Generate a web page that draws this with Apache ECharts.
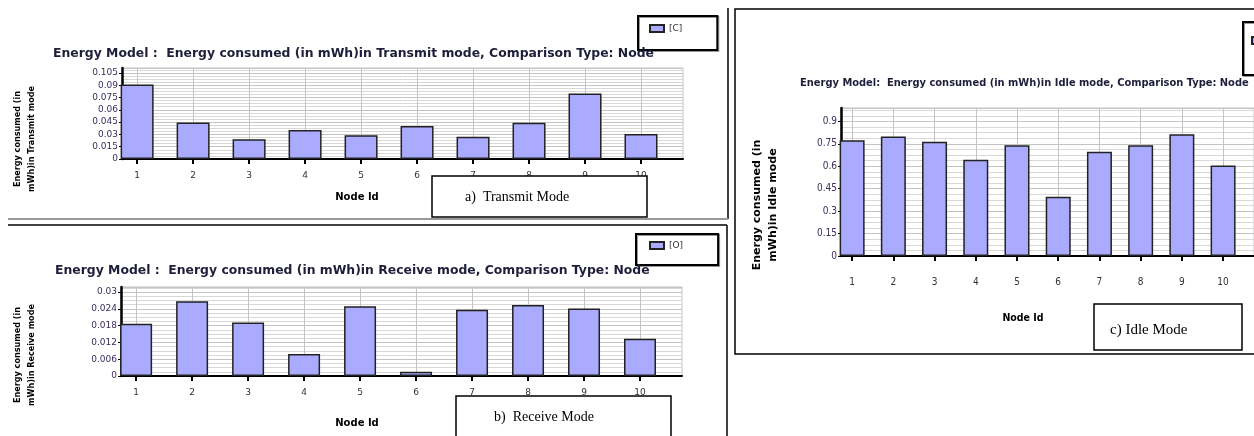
<!doctype html>
<html>
    <head>
        <meta charset="utf-8">
        <title>Energy consumed per node</title>
        <style>
            html, body { margin: 0; padding: 0; background: #fff; }
            #main { width: 1254px; height: 436px; }
        </style>
    </head>
    <body>
        <div id="main"></div>
        <script src="https://cdn.jsdelivr.net/npm/echarts@6/dist/echarts.min.js"></script>
        <script>
            // values (mWh)
            var nodeIds = [1, 2, 3, 4, 5, 6, 7, 8, 9, 10];
            var transmitValues = [0.091, 0.0446, 0.0242, 0.0353, 0.0291, 0.0402, 0.027, 0.0443, 0.080, 0.0304];
            var receiveValues = [0.0187, 0.0267, 0.0191, 0.0079, 0.0249, 0.0015, 0.0237, 0.0254, 0.0241, 0.0133];
            var idleValues = [0.775, 0.799, 0.765, 0.643, 0.741, 0.397, 0.698, 0.741, 0.815, 0.605];
            var seriesNames = ['[C]', '[O]', '[I]'];

            var SANS = 'DejaVu Sans';
            var COND = '"DejaVu Sans Condensed", "Liberation Sans Narrow", sans-serif';
            var BAR = '#aaaaff';

            function pairs(values) {
                return values.map(function (v, i) { return [nodeIds[i], v]; });
            }

            function xAxis(idx, margin, font, size) {
                return {
                    type: 'value', gridIndex: idx,
                    min: 0.73, max: 10.75,
                    axisLine: { lineStyle: { color: '#000', width: 2 } },
                    axisTick: { customValues: nodeIds, length: 5, lineStyle: { color: '#000', width: 2 } },
                    axisLabel: { customValues: nodeIds, margin: margin, fontFamily: font, fontSize: size, color: '#333' },
                    splitLine: { show: true, lineStyle: { color: '#c4c4c4' } }
                };
            }

            function yAxis(idx, max, interval, font, size) {
                return {
                    type: 'value', gridIndex: idx,
                    min: 0, max: max, interval: interval,
                    axisLine: { show: true, lineStyle: { color: '#000', width: 2.5 } },
                    axisTick: { show: true, length: 3, lineStyle: { color: '#000' } },
                    axisLabel: { showMaxLabel: false, margin: 4, fontFamily: font, fontSize: size, color: '#3b2d5c' },
                    splitLine: { lineStyle: { color: '#c4c4c4' } },
                    minorTick: { show: false, splitNumber: 4 },
                    minorSplitLine: { show: true, lineStyle: { color: '#d8d8d8' } }
                };
            }

            function bars(name, idx, values, width) {
                return {
                    type: 'bar', name: name,
                    xAxisIndex: idx, yAxisIndex: idx,
                    barWidth: width,
                    itemStyle: { color: BAR, borderColor: '#222', borderWidth: 1.5 },
                    data: pairs(values)
                };
            }

            function legend(name, left, top, padding) {
                return {
                    data: [name], left: left, top: top, padding: padding,
                    orient: 'vertical', icon: 'rect', itemWidth: 14, itemHeight: 7,
                    borderColor: '#000', borderWidth: 2,
                    shadowColor: 'rgba(0,0,0,0.4)', shadowOffsetX: 1, shadowOffsetY: 1,
                    textStyle: { fontFamily: SANS, fontSize: 9, color: '#333' }
                };
            }

            function label(text, x, y, font, size, rot) {
                return {
                    type: 'text', x: x, y: y, rotation: rot || 0, z: 100,
                    style: {
                        text: text, font: 'bold ' + size + 'px ' + font,
                        fill: '#000', align: 'center', verticalAlign: 'middle', lineHeight: size + 5
                    }
                };
            }

            function line(x1, y1, x2, y2, color, w) {
                return { type: 'line', z: 100, shape: { x1: x1, y1: y1, x2: x2, y2: y2 }, style: { stroke: color, lineWidth: w } };
            }

            function caption(x, y, w, h, text, tx, ty, size) {
                return [
                    { type: 'rect', z: 100, shape: { x: x, y: y, width: w, height: h }, style: { fill: '#fff', stroke: '#000', lineWidth: 1.5 } },
                    { type: 'text', z: 101, x: tx, y: ty, style: { text: text, font: size + 'px "Liberation Serif"', fill: '#000', verticalAlign: 'middle' } }
                ];
            }

            var chart = echarts.init(document.getElementById('main'));

            chart.setOption({
                backgroundColor: '#fff',
                animation: false,
                title: [
                    { text: 'Energy Model :  Energy consumed (in mWh)in Transmit mode, Comparison Type: Node', left: 53, top: 48, padding: 0,
                      textStyle: { fontFamily: SANS, fontSize: 12.4, fontWeight: 'bold', color: '#1e1e3a' } },
                    { text: 'Energy Model :  Energy consumed (in mWh)in Receive mode, Comparison Type: Node', left: 55, top: 265, padding: 0,
                      textStyle: { fontFamily: SANS, fontSize: 12.4, fontWeight: 'bold', color: '#1e1e3a' } },
                    { text: 'Energy Model:  Energy consumed (in mWh)in Idle mode, Comparison Type: Node', left: 800, top: 78, padding: 0,
                      textStyle: { fontFamily: COND, fontSize: 11, fontWeight: 'bold', color: '#1e1e3a' } }
                ],
                legend: [
                    legend(seriesNames[0], 638, 16, [8, 35, 17, 11]),
                    legend(seriesNames[1], 636, 234, [7, 35, 15, 13]),
                    legend(seriesNames[2], 1243, 22, [14, 35, 30, 8])
                ],
                grid: [
                    { left: 122, top: 68, width: 561, height: 91, show: true, borderColor: '#c4c4c4', borderWidth: 1 },
                    { left: 121, top: 287, width: 561, height: 89, show: true, borderColor: '#c4c4c4', borderWidth: 1 },
                    { left: 841, top: 108, width: 437, height: 148, show: true, borderColor: '#c4c4c4', borderWidth: 1 }
                ],
                xAxis: [
                    xAxis(0, 12, SANS, 9),
                    xAxis(1, 12, SANS, 9),
                    xAxis(2, 21, COND, 10)
                ],
                yAxis: [
                    yAxis(0, 0.111, 0.015, SANS, 9),
                    yAxis(1, 0.0318, 0.006, SANS, 9),
                    yAxis(2, 0.99, 0.15, COND, 10)
                ],
                series: [
                    bars(seriesNames[0], 0, transmitValues, 33),
                    bars(seriesNames[1], 1, receiveValues, 32),
                    bars(seriesNames[2], 2, idleValues, 25)
                ],
                graphic: [
                    // panel frames
                    line(728, 8, 728, 219, '#000', 1.5),
                    line(8, 219, 728, 219, '#999', 2),
                    line(8, 225, 727, 225, '#000', 1.5),
                    line(727, 225, 727, 436, '#000', 1.5),
                    { type: 'rect', z: 100, shape: { x: 735, y: 9, width: 530, height: 345 }, style: { fill: null, stroke: '#000', lineWidth: 1.5 } },
                    // axis names
                    label('Energy consumed (in\nmWh)in Transmit mode', 25, 139, COND, 9, Math.PI / 2),
                    label('Energy consumed (in\nmWh)in Receive mode', 25, 355, COND, 9, Math.PI / 2),
                    label('Energy consumed (in\nmWh)in Idle mode', 765, 205, SANS, 11, Math.PI / 2),
                    label('Node Id', 357, 197, SANS, 10),
                    label('Node Id', 357, 423, SANS, 10),
                    label('Node Id', 1023, 318, COND, 10.5)
                ].concat(
                    caption(432, 176, 215, 41, 'a)  Transmit Mode', 465, 197, 14),
                    caption(456, 396, 215, 50, 'b)  Receive Mode', 494, 417, 14),
                    caption(1094, 304, 148, 46, 'c) Idle Mode', 1110, 330, 15)
                )
            });

            window.addEventListener('resize', function () {
                chart.resize();
            });
        </script>
    </body>
</html>
